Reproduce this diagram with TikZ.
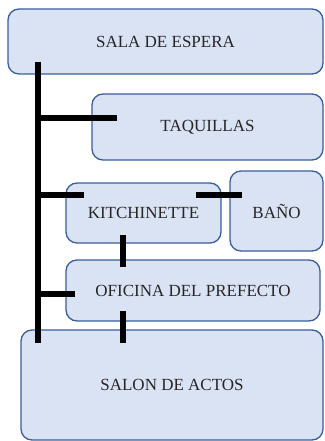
\documentclass[tikz,border=0pt]{standalone}
\usepackage{fontspec}
\setmainfont{Liberation Serif}
\definecolor{boxfill}{HTML}{DAE3F3}
\definecolor{boxline}{HTML}{3A5E9C}
\begin{document}
\begin{tikzpicture}[x=1pt,y=-1pt,
  room/.style={draw=boxline,fill=boxfill,line width=1.3pt,rounded corners=11pt,
    inner sep=0pt,font=\fontsize{17}{20}\selectfont,text=black!85},
  link/.style={line width=6pt,black,line cap=butt}]
\useasboundingbox (0,0) rectangle (324,441);
\node[room,minimum width=315pt,minimum height=65pt] (sala) at (165.5,41.5) {SALA DE ESPERA};
\node[room,minimum width=231pt,minimum height=66pt] (taq) at (207.5,127) {TAQUILLAS};
\node[room,minimum width=155pt,minimum height=60pt] (kit) at (143.5,213) {KITCHINETTE};
\node[room,minimum width=93pt,minimum height=80pt] (bano) at (276.5,211) {BAÑO};
\node[room,minimum width=254pt,minimum height=61pt] (ofi) at (193,290.5) {OFICINA DEL PREFECTO};
\node[room,minimum width=302pt,minimum height=110pt] (salon) at (172,385) {SALON DE ACTOS};
% connector points
\coordinate (spinetop) at (38,62);
\coordinate (spinebot) at (38,343);
\coordinate (tq) at (117,118);
\coordinate (kq) at (84,195);
\coordinate (oq) at (75,294);
\coordinate (kb1) at (196,195);
\coordinate (kb2) at (242,195);
\coordinate (ko1) at (123,235);
\coordinate (ko2) at (123,267);
\coordinate (os1) at (123,311);
\coordinate (os2) at (123,343);
\draw[link] (spinetop) -- (spinebot);
\draw[link] (spinetop |- tq) -- (tq);
\draw[link] (spinetop |- kq) -- (kq);
\draw[link] (spinetop |- oq) -- (oq);
\draw[link] (kb1) -- (kb2);
\draw[link] (ko1) -- (ko2);
\draw[link] (os1) -- (os2);
\end{tikzpicture}
\end{document}
